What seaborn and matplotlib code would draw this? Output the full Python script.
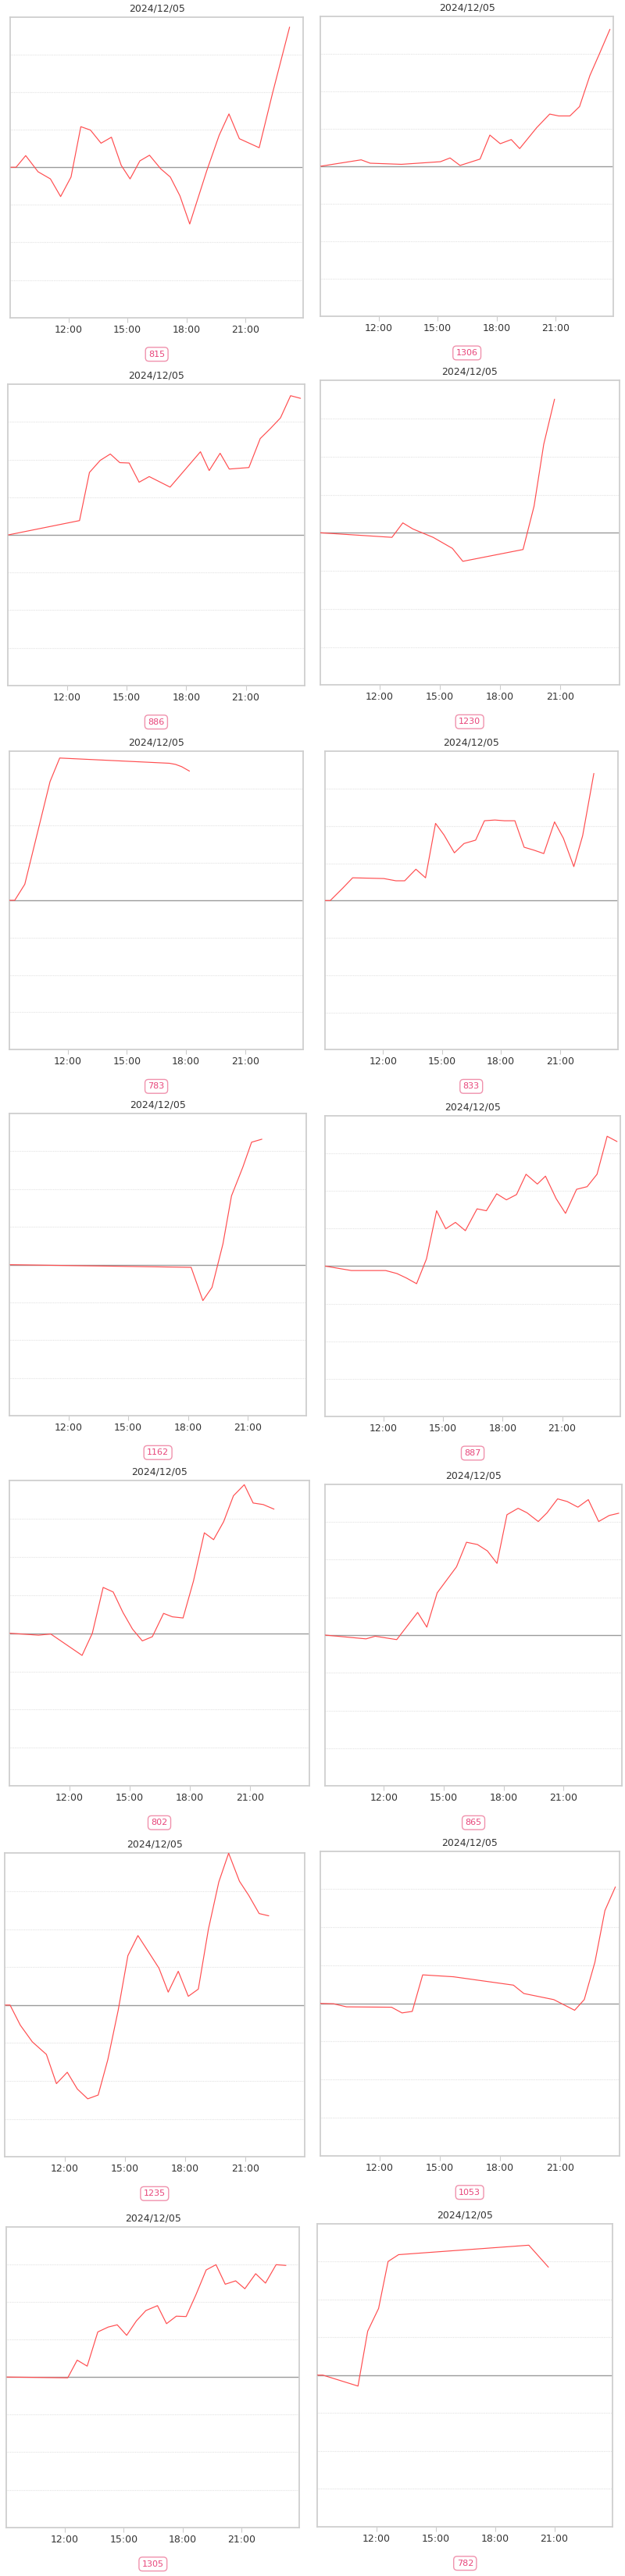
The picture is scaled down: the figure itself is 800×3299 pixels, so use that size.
import matplotlib
matplotlib.use("Agg")
import matplotlib.pyplot as plt
import seaborn as sns
import pandas as pd

# ---------------- data ----------------
date_label = "2024/12/05"
tick_hours = [12, 15, 18, 21]
tick_labels = ["12:00", "15:00", "18:00", "21:00"]
box_values = [815, 1306, 886, 1230, 783, 833, 1162, 887, 802, 865, 1235, 1053, 1305, 782]

t01 = [9.05, 9.32, 9.81, 10.44, 11.07, 11.59, 12.12, 12.62, 13.11, 13.65, 14.18, 14.68, 15.13,
       15.63, 16.12, 16.69, 17.18, 17.67, 18.17, 19.04, 19.67, 20.17, 20.70, 21.71, 22.40, 23.26]
v01 = [0, 0, 0.31, -0.12, -0.31, -0.78, -0.26, 1.08, 0.99, 0.64, 0.80, 0.05, -0.31,
       0.17, 0.32, -0.04, -0.26, -0.76, -1.51, -0.09, 0.85, 1.42, 0.76, 0.52, 1.99, 3.73]

t02 = [9.04, 11.10, 11.56, 13.15, 15.14, 15.63, 16.14, 17.16, 17.66, 18.19, 18.75, 19.18,
       20.05, 20.71, 21.17, 21.74, 22.23, 22.76, 23.23, 23.78]
v02 = [0, 0.17, 0.08, 0.05, 0.12, 0.22, 0.02, 0.19, 0.83, 0.60, 0.71, 0.47,
       1.03, 1.39, 1.34, 1.34, 1.59, 2.42, 2.98, 3.65]

t03 = [9.05, 12.63, 13.13, 13.67, 14.18, 14.66, 15.13, 15.63, 16.14, 17.19, 18.72, 19.16,
       19.71, 20.17, 21.16, 21.73, 22.23, 22.75, 23.26, 23.76]
v03 = [0, 0.38, 1.66, 1.98, 2.15, 1.92, 1.91, 1.40, 1.55, 1.27, 2.21, 1.71,
       2.17, 1.75, 1.79, 2.56, 2.82, 3.11, 3.70, 3.63]

t04 = [9.05, 12.62, 13.16, 13.66, 14.67, 15.63, 16.15, 19.15, 19.70, 20.18, 20.72]
v04 = [0, -0.12, 0.26, 0.10, -0.12, -0.41, -0.75, -0.44, 0.70, 2.32, 3.51]

t05 = [9.03, 9.31, 9.82, 11.10, 11.59, 17.15, 17.46, 17.77, 18.17]
v05 = [0, 0, 0.43, 3.18, 3.81, 3.67, 3.64, 3.58, 3.46]

t06 = [9.05, 9.31, 9.94, 10.45, 12.04, 12.65, 13.10, 13.67, 14.16, 14.67, 15.10, 15.63, 16.12,
       16.71, 17.16, 17.69, 18.18, 18.71, 19.18, 19.69, 20.18, 20.73, 21.18, 21.71, 22.16, 22.73]
v06 = [0, 0, 0.33, 0.61, 0.59, 0.53, 0.53, 0.84, 0.61, 2.07, 1.76, 1.28, 1.53,
       1.62, 2.14, 2.16, 2.14, 2.14, 1.43, 1.35, 1.26, 2.11, 1.67, 0.91, 1.74, 3.41]

t07 = [9.06, 18.16, 18.75, 19.21, 19.76, 20.19, 20.76, 21.20, 21.72]
v07 = [0, -0.07, -0.95, -0.60, 0.55, 1.82, 2.58, 3.24, 3.32]

t08 = [9.03, 10.37, 12.10, 12.67, 13.15, 13.66, 14.16, 14.67, 15.13, 15.62, 16.12, 16.71, 17.18,
       17.70, 18.19, 18.70, 19.18, 19.75, 20.16, 20.70, 21.17, 21.73, 22.26, 22.76, 23.27, 23.77]
v08 = [0, -0.12, -0.12, -0.20, -0.32, -0.47, 0.19, 1.47, 0.99, 1.16, 0.94, 1.52, 1.47,
       1.92, 1.76, 1.90, 2.44, 2.18, 2.39, 1.79, 1.40, 2.04, 2.11, 2.44, 3.45, 3.31]

t09 = [9.05, 10.47, 11.08, 12.64, 13.15, 13.69, 14.19, 14.67, 15.15, 15.64, 16.14, 16.70,
       17.14, 17.67, 18.19, 18.73, 19.19, 19.69, 20.18, 20.72, 21.16, 21.66, 22.20]
v09 = [0, -0.05, -0.02, -0.58, 0, 1.20, 1.08, 0.55, 0.11, -0.20, -0.09, 0.52,
       0.43, 0.40, 1.37, 2.63, 2.45, 2.92, 3.60, 3.89, 3.41, 3.37, 3.25]

t10 = [9.05, 11.10, 11.56, 12.64, 13.69, 14.15, 14.67, 15.64, 16.14, 16.69, 17.19, 17.67,
       18.17, 18.73, 19.18, 19.74, 20.18, 20.71, 21.19, 21.73, 22.25, 22.77, 23.30, 23.78]
v10 = [0, -0.10, -0.03, -0.12, 0.60, 0.21, 1.12, 1.81, 2.46, 2.40, 2.23, 1.90,
       3.19, 3.36, 3.24, 3.01, 3.24, 3.61, 3.54, 3.39, 3.59, 3.01, 3.17, 3.23]

t11 = [9.05, 9.29, 9.80, 10.40, 11.10, 11.60, 12.14, 12.64, 13.16, 13.68, 14.16, 14.68, 15.16,
       15.66, 16.20, 16.71, 17.17, 17.67, 18.17, 18.67, 19.17, 19.69, 20.18, 20.72, 21.18,
       21.70, 22.18]
v11 = [0, 0, -0.53, -0.97, -1.30, -2.07, -1.77, -2.21, -2.47, -2.37, -1.44, -0.13, 1.30,
       1.83, 1.39, 0.97, 0.34, 0.89, 0.23, 0.42, 1.99, 3.24, 4.00, 3.26, 2.89,
       2.41, 2.35]

t12 = [9.03, 9.71, 10.35, 12.60, 13.12, 13.63, 14.15, 15.68, 18.67, 19.19, 20.68, 21.72,
       22.20, 22.73, 23.23, 23.75]
v12 = [0, -0.01, -0.09, -0.10, -0.25, -0.21, 0.75, 0.70, 0.48, 0.26, 0.10, -0.18,
       0.10, 1.08, 2.44, 3.06]

t13 = [9.05, 12.15, 12.63, 13.14, 13.68, 14.21, 14.67, 15.15, 15.64, 16.13, 16.72, 17.18,
       17.68, 18.18, 18.67, 19.20, 19.70, 20.17, 20.70, 21.17, 21.72, 22.22, 22.76, 23.26]
v13 = [0, -0.02, 0.45, 0.29, 1.20, 1.33, 1.39, 1.11, 1.49, 1.77, 1.90, 1.42,
       1.62, 1.61, 2.18, 2.85, 2.99, 2.47, 2.56, 2.35, 2.75, 2.50, 2.99, 2.97]

t14 = [9.03, 9.30, 11.08, 11.57, 12.12, 12.60, 13.13, 19.71, 20.70]
v14 = [0, 0, -0.29, 1.16, 1.76, 3.00, 3.18, 3.43, 2.85]

series_times = [t01, t02, t03, t04, t05, t06, t07, t08, t09, t10, t11, t12, t13, t14]
series_values = [v01, v02, v03, v04, v05, v06, v07, v08, v09, v10, v11, v12, v13, v14]

# ---------------- layout (pixels: left, top, right, bottom) ----------------
W, H = 800, 3299
panel_px = [
    (13.3, 21.7, 388.0, 406.7), (410.3, 20.7, 785.0, 405.0),
    (10.3, 492.3, 389.5, 877.7), (409.5, 487.3, 792.8, 877.3),
    (11.8, 961.7, 388.4, 1344.3), (415.7, 962.3, 790.8, 1344.3),
    (12.3, 1426.0, 392.0, 1813.3), (415.7, 1428.7, 794.4, 1814.0),
    (12.3, 1896.0, 395.7, 2287.3), (415.7, 1900.7, 796.4, 2287.3),
    (6.2, 2373.3, 389.5, 2762.3), (409.5, 2370.7, 792.8, 2760.7),
    (8.3, 2851.7, 383.3, 3236.7), (406.3, 2847.7, 784.3, 3235.7),
]

LINE = "#ff4d4f"
FRAME = "#cfcfcf"
TEXT = "#333333"

sns.set_theme(style="white")
plt.rcParams["font.family"] = ["DejaVu Sans"]

fig = plt.figure(figsize=(W / 100, H / 100), dpi=100)
fig.patch.set_facecolor("white")

for i, (l, t, r, b) in enumerate(panel_px):
    ax = fig.add_axes([l / W, 1 - b / H, (r - l) / W, (b - t) / H])
    df = pd.DataFrame({"hour": series_times[i], "value": series_values[i]})
    ax.set_yticks([-3, -2, -1, 1, 2, 3])
    ax.grid(axis="y", color="#e4e4e4", linestyle=(0, (1, 1)), linewidth=0.8)
    ax.grid(axis="x", visible=False)
    ax.axhline(0, color="#9a9a9a", linewidth=1.0, zorder=2)
    sns.lineplot(data=df, x="hour", y="value", ax=ax, color=LINE, linewidth=0.85,
                 estimator=None, sort=False, zorder=3)
    ax.set_xlim(9.03, 23.95)
    ax.set_ylim(-4, 4)
    ax.set_xticks(tick_hours)
    ax.set_xticklabels(tick_labels)
    ax.set_xlabel("")
    ax.set_ylabel("")
    ax.tick_params(axis="y", left=False, labelleft=False)
    ax.tick_params(axis="x", bottom=True, length=4, width=0.8, color="#cccccc",
                   labelsize=9, labelcolor=TEXT, pad=2.5)
    for sp in ax.spines.values():
        sp.set_color(FRAME)
        sp.set_linewidth(1.3)
    cx = (l + r) / 2 / W
    fig.text(cx, 1 - (t - 11) / H, date_label, ha="center", va="center",
             fontsize=9, color=TEXT)
    fig.text(cx, 1 - (b + 47) / H, str(box_values[i]), ha="center", va="center",
             fontsize=8, color="#e8457a",
             bbox=dict(boxstyle="round,pad=0.35,rounding_size=0.4", fc="white",
                       ec="#f092ad", lw=1.0))

fig.savefig("out.png", dpi=100, facecolor="white")
